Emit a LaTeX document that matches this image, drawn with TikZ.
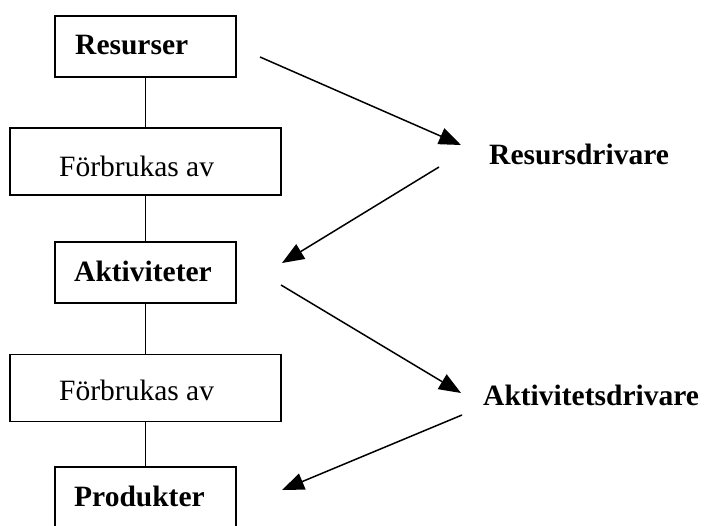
\documentclass[tikz,border=0pt]{standalone}
\usepackage{fontspec}
\setmainfont{Liberation Serif}
\usetikzlibrary{arrows.meta}
\begin{document}
\begin{tikzpicture}[x=1pt,y=-1pt,
  box/.style={draw, line width=1.5pt, rectangle, inner sep=0pt},
  narrowbox/.style={box, minimum width=181pt, minimum height=61pt},
  widebox/.style={box, minimum width=271pt, minimum height=67pt},
  lbl/.style={anchor=base west, inner sep=0pt, font=\fontsize{29.5}{35}\selectfont},
  blbl/.style={anchor=base west, inner sep=0pt, font=\fontsize{29.5}{35}\selectfont\bfseries},
  link/.style={line width=1.5pt},
  drive/.style={line width=1.5pt, -{Triangle[length=22pt,width=17pt]}}]
\useasboundingbox (0,0) rectangle (708,525);
\clip (0,0) rectangle (708,525);

% chain of boxes
\node[narrowbox] (res)  at (145.5,46.5) {};
\node[widebox]   (fb1)  at (145.5,161.5) {};
\node[narrowbox] (akt)  at (145.5,272.5) {};
\node[widebox]   (fb2)  at (145.5,388) {};
\node[narrowbox, minimum height=70pt] (prod) at (145.5,502) {};

% box texts
\node[blbl] (tres)  at (75,54)  {Resurser};
\node[lbl]  (tfb1)  at (59,176) {Förbrukas av};
\node[blbl] (takt)  at (74,281) {Aktiviteter};
\node[lbl]  (tfb2)  at (59,400) {Förbrukas av};
\node[blbl] (tprod) at (74,506) {Produkter};

% driver labels
\node[blbl] (rd) at (489,164) {Resursdrivare};
\node[blbl] (ad) at (483,405) {Aktivitetsdrivare};

% vertical links
\draw[link] (res.south) -- (fb1.north);
\draw[link] (fb1.south) -- (akt.north);
\draw[link] (akt.south) -- (fb2.north);
\draw[link] (fb2.south) -- (prod.north);

% driver arrows
\coordinate (a1s) at (260,57);
\coordinate (a1e) at (461,145);
\coordinate (a2s) at (439,167);
\coordinate (a2e) at (282,263);
\coordinate (a3s) at (281,285);
\coordinate (a3e) at (461,393);
\coordinate (a4s) at (462,415);
\coordinate (a4e) at (282,490);
\draw[drive] (a1s) -- (a1e);
\draw[drive] (a2s) -- (a2e);
\draw[drive] (a3s) -- (a3e);
\draw[drive] (a4s) -- (a4e);
\end{tikzpicture}
\end{document}
